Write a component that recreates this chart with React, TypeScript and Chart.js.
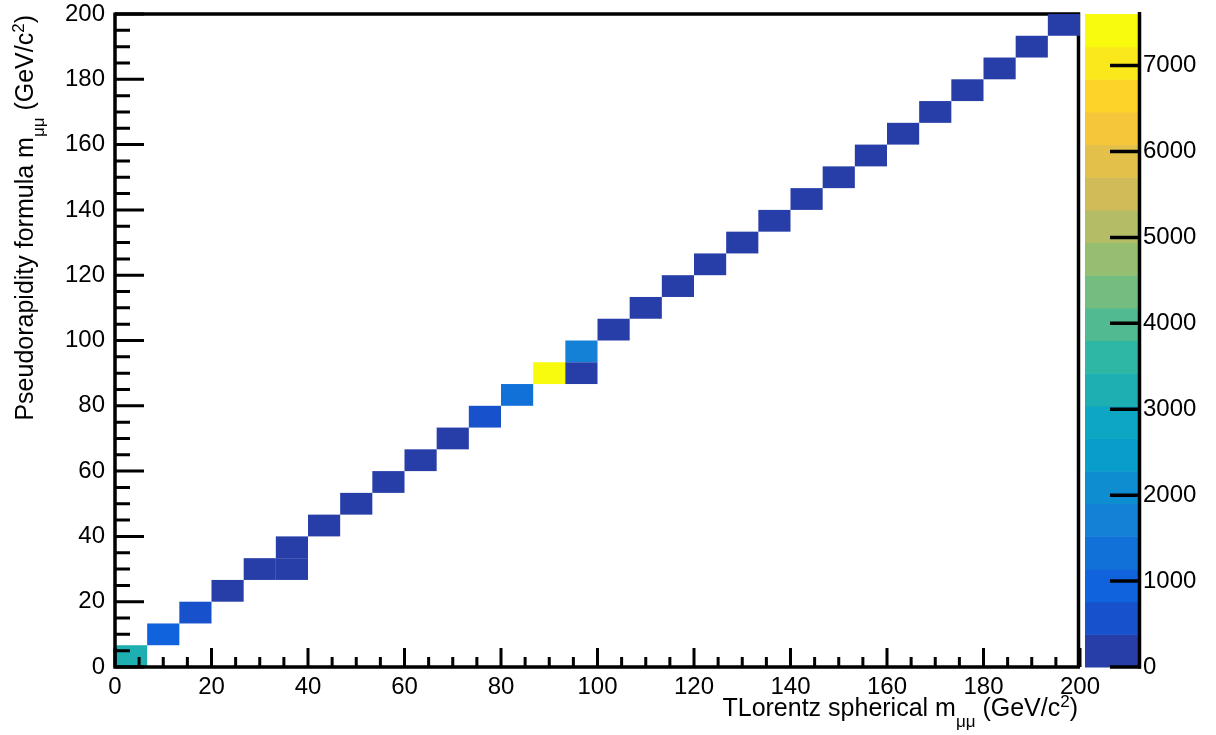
import React, { useEffect, useRef } from 'react';
import { Chart, registerables } from 'chart.js';

Chart.register(...registerables);

// ---- histogram binning (TH2: 30 x 30 bins, 0..200 GeV/c^2 on both axes)
const nBinsX = 30;
const nBinsY = 30;
const xRange = [0, 200];
const yRange = [0, 200];

// ---- counts of the filled cells along the diagonal (bin i, bin i)
const diagonalCounts = [
  3200, 950, 580, 260, 190, 150, 130, 120, 120, 140,
  200, 600, 1300, 7600, 1700, 320, 160, 110, 85, 65,
  50, 40, 32, 26, 21, 17, 14, 12, 10, 9,
];
// ---- filled cells off the diagonal
const offDiagXBin = [5, 14];
const offDiagYBin = [4, 13];
const offDiagCounts = [45, 240];

// ---- axis ticks / colour scale
const xMajorTicks = [0, 20, 40, 60, 80, 100, 120, 140, 160, 180, 200];
const yMajorTicks = [0, 20, 40, 60, 80, 100, 120, 140, 160, 180, 200];
const zTicks = [0, 1000, 2000, 3000, 4000, 5000, 6000, 7000];
const xMinorStep = 5;
const yMinorStep = 5;
const zMax = 7600;
const nContours = 20;

const xTitle = [
  { t: 'TLorentz spherical m', k: 'n' },
  { t: 'μμ', k: 'sub' },
  { t: ' (GeV/c', k: 'n' },
  { t: '2', k: 'sup' },
  { t: ')', k: 'n' },
];
const yTitle = [
  { t: 'Pseudorapidity formula m', k: 'n' },
  { t: 'μμ', k: 'sub' },
  { t: ' (GeV/c', k: 'n' },
  { t: '2', k: 'sup' },
  { t: ')', k: 'n' },
];

// ROOT kBird palette stops
const birdStops = [0.0, 0.125, 0.25, 0.375, 0.5, 0.625, 0.75, 0.875, 1.0];
const birdR = [0.2082, 0.0592, 0.078, 0.0232, 0.1802, 0.5301, 0.8186, 0.9956, 0.9764];
const birdG = [0.1664, 0.3599, 0.5041, 0.6419, 0.7178, 0.7492, 0.7328, 0.7862, 0.9832];
const birdB = [0.5293, 0.8684, 0.8385, 0.7914, 0.6425, 0.4662, 0.3499, 0.1968, 0.0539];

function birdAt(p: number): string {
  let s = 0;
  while (s < birdStops.length - 2 && p > birdStops[s + 1]) s++;
  const t = (p - birdStops[s]) / (birdStops[s + 1] - birdStops[s]);
  const c = (a: number[]) => Math.round(255 * (a[s] + t * (a[s + 1] - a[s])));
  return `rgb(${c(birdR)},${c(birdG)},${c(birdB)})`;
}
const palette: string[] = [];
for (let i = 0; i < nContours; i++) {
  const k = Math.min(254, Math.floor(((i + 0.99) * 255) / nContours));
  palette.push(birdAt(k / 254));
}
function colorFor(v: number, max: number) {
  const i = Math.min(nContours - 1, Math.max(0, Math.floor((v / max) * nContours)));
  return palette[i];
}

const FONT = "'Liberation Sans', Arial, sans-serif";
const LABEL_SIZE = 24;
const TITLE_SIZE = 25;
const SMALL_SIZE = 17;

type Cell = { x: number; y: number; x0: number; x1: number; y0: number; y1: number; v: number };

function buildCells(): Cell[] {
  const bwx = (xRange[1] - xRange[0]) / nBinsX;
  const bwy = (yRange[1] - yRange[0]) / nBinsY;
  const cells: Cell[] = [];
  const add = (ix: number, iy: number, v: number) => {
    const x0 = xRange[0] + ix * bwx;
    const y0 = yRange[0] + iy * bwy;
    cells.push({ x: x0 + bwx / 2, y: y0 + bwy / 2, x0, x1: x0 + bwx, y0, y1: y0 + bwy, v });
  };
  diagonalCounts.forEach((v, i) => add(i, i, v));
  offDiagCounts.forEach((v, j) => add(offDiagXBin[j], offDiagYBin[j], v));
  return cells;
}

function drawRich(ctx: CanvasRenderingContext2D, segs: { t: string; k: string }[], xEnd: number, base: number) {
  const sizeOf = (k: string) => (k === 'n' ? TITLE_SIZE : SMALL_SIZE);
  const dyOf = (k: string) => (k === 'sub' ? 11 : k === 'sup' ? -9 : 0);
  let w = 0;
  const widths = segs.map((s) => {
    ctx.font = `${sizeOf(s.k)}px ${FONT}`;
    const m = ctx.measureText(s.t).width;
    w += m;
    return m;
  });
  let x = xEnd - w;
  ctx.textAlign = 'left';
  ctx.textBaseline = 'alphabetic';
  ctx.fillStyle = '#000';
  segs.forEach((s, i) => {
    ctx.font = `${sizeOf(s.k)}px ${FONT}`;
    ctx.fillText(s.t, x, base + dyOf(s.k));
    x += widths[i];
  });
}

const th2Plugin = {
  id: 'th2colz',
  beforeDatasetsDraw(chart: any) {
    const { ctx, chartArea: a, scales } = chart;
    const sx = scales.x;
    const sy = scales.y;
    const sz = scales.z;
    ctx.save();
    ctx.lineCap = 'butt';
    // top and right sides of the frame (under the cells)
    ctx.strokeStyle = '#000';
    ctx.lineWidth = 3.5;
    ctx.beginPath();
    ctx.moveTo(a.left, a.top);
    ctx.lineTo(a.right - 1.5, a.top);
    ctx.lineTo(a.right - 1.5, a.bottom);
    ctx.stroke();

    // cells
    const cells: Cell[] = chart.data.datasets[0].data;
    for (const c of cells) {
      const px0 = sx.getPixelForValue(c.x0);
      const px1 = sx.getPixelForValue(c.x1);
      const py0 = sy.getPixelForValue(c.y0);
      const py1 = sy.getPixelForValue(c.y1);
      ctx.fillStyle = colorFor(c.v, sz.max);
      ctx.fillRect(px0, py1, px1 - px0, py0 - py1);
    }

    // axis lines (left and bottom) and inner ticks
    ctx.strokeStyle = '#000';
    ctx.lineWidth = 3.5;
    ctx.beginPath();
    ctx.moveTo(a.left, a.top - 1.5);
    ctx.lineTo(a.left, a.bottom);
    ctx.lineTo(a.right, a.bottom);
    ctx.stroke();

    ctx.lineWidth = 3;
    ctx.beginPath();
    const xMajLen = 19, xMinLen = 10;
    const xMaj = sx.ticks.map((t: any) => t.value);
    for (let v = sx.min; v <= sx.max + 1e-9; v += xMinorStep) {
      const p = sx.getPixelForValue(v);
      const len = xMaj.some((m: number) => Math.abs(m - v) < 1e-6) ? xMajLen : xMinLen;
      ctx.moveTo(p, a.bottom);
      ctx.lineTo(p, a.bottom - len);
    }
    const yMajLen = 29, yMinLen = 15;
    const yMaj = sy.ticks.map((t: any) => t.value);
    for (let v = sy.min; v <= sy.max + 1e-9; v += yMinorStep) {
      const p = sy.getPixelForValue(v);
      const len = yMaj.some((m: number) => Math.abs(m - v) < 1e-6) ? yMajLen : yMinLen;
      ctx.moveTo(a.left, p);
      ctx.lineTo(a.left + len, p);
    }
    ctx.stroke();

    // colour bar
    const barL = a.right + 5;
    const barR = a.right + 58;
    for (let k = 0; k < nContours; k++) {
      const yb = sz.getPixelForValue((k * sz.max) / nContours);
      const yt = sz.getPixelForValue(((k + 1) * sz.max) / nContours);
      ctx.fillStyle = palette[k];
      ctx.fillRect(barL, yt, barR - barL, yb - yt + 0.5);
    }
    ctx.lineWidth = 3.5;
    ctx.beginPath();
    ctx.moveTo(barR + 1.5, a.top - 2);
    ctx.lineTo(barR + 1.5, a.bottom + 1.5);
    ctx.stroke();
    ctx.beginPath();
    for (const t of sz.ticks) {
      const p = sz.getPixelForValue(t.value);
      ctx.moveTo(barR - 28, p);
      ctx.lineTo(barR + 3, p);
    }
    ctx.stroke();

    // axis titles
    drawRich(ctx, xTitle, a.right - 2, 716);
    ctx.save();
    ctx.translate(33, a.top + 1);
    ctx.rotate(-Math.PI / 2);
    drawRich(ctx, yTitle, 0, 0);
    ctx.restore();

    ctx.restore();
  },
};

const setTicks = (vals: number[]) => (s: any) => {
  s.ticks = vals.map((value) => ({ value }));
};
const plainLabel = (v: any) => String(v);

export default function App() {
  const ref = useRef<HTMLCanvasElement>(null);
  useEffect(() => {
    document.body.style.margin = '0';
    const cells = buildCells();
    const tickFont = { family: FONT, size: LABEL_SIZE };
    const chart = new Chart(ref.current as HTMLCanvasElement, {
      type: 'scatter',
      data: {
        datasets: [
          {
            data: cells as any,
            pointRadius: 0,
            pointHoverRadius: 0,
            showLine: false,
          },
        ],
      },
      options: {
        animation: false,
        responsive: false,
        events: [],
        layout: { padding: { top: 14, left: 0, right: 0, bottom: 0 }, autoPadding: false },
        plugins: { legend: { display: false }, tooltip: { enabled: false } },
        scales: {
          x: {
            type: 'linear',
            position: 'bottom',
            min: xRange[0],
            max: xRange[1],
            grid: { display: false, drawTicks: false },
            border: { display: false },
            ticks: { font: tickFont, color: '#000', padding: 6, maxRotation: 0, callback: plainLabel },
            afterBuildTicks: setTicks(xMajorTicks),
            afterFit: (s: any) => {
              s.height = 68;
              s.paddingLeft = 0;
              s.paddingRight = 0;
            },
          },
          y: {
            type: 'linear',
            position: 'left',
            min: yRange[0],
            max: yRange[1],
            grid: { display: false, drawTicks: false },
            border: { display: false },
            ticks: { font: tickFont, color: '#000', padding: 10, callback: plainLabel },
            afterBuildTicks: setTicks(yMajorTicks),
            afterFit: (s: any) => {
              s.width = 115;
              s.paddingTop = 0;
              s.paddingBottom = 0;
            },
          },
          z: {
            type: 'linear',
            axis: 'y',
            position: 'right',
            min: 0,
            max: zMax,
            grid: { display: false, drawTicks: false, drawOnChartArea: false },
            border: { display: false },
            ticks: { font: tickFont, color: '#000', padding: 63, callback: plainLabel },
            afterBuildTicks: setTicks(zTicks),
            afterFit: (s: any) => {
              s.width = 136;
              s.paddingTop = 0;
              s.paddingBottom = 0;
            },
          },
        },
      } as any,
      plugins: [th2Plugin],
    });
    return () => chart.destroy();
  }, []);
  return (
    <div style={{ position: 'absolute', left: 0, top: 0, width: 1216, height: 735, background: '#fff' }}>
      <canvas ref={ref} width={1216} height={735} style={{ display: 'block', width: 1216, height: 735 }} />
    </div>
  );
}
